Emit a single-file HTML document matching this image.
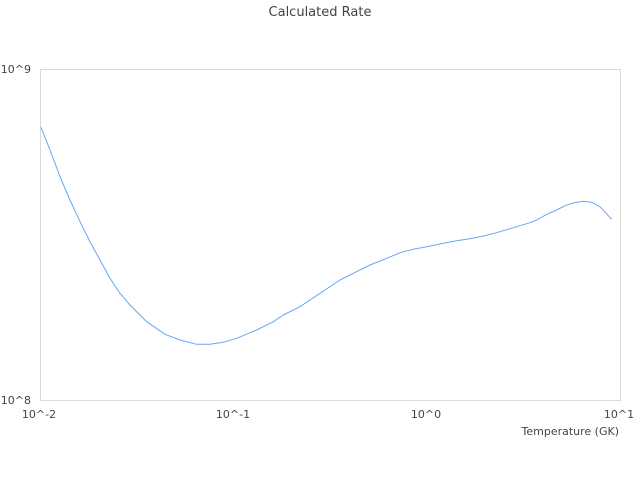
<!DOCTYPE html>
<html><head><meta charset="utf-8"><style>
html,body{margin:0;padding:0;background:#fff;}
svg{display:block;}
text{font-family:"DejaVu Sans","Liberation Sans",sans-serif;fill:#444;}
</style></head><body>
<svg width="640" height="480" viewBox="0 0 640 480" xmlns="http://www.w3.org/2000/svg">
<rect x="0" y="0" width="640" height="480" fill="#fff"/>
<text x="320" y="16" font-size="13" text-anchor="middle">Calculated Rate</text>
<rect x="40.5" y="69.5" width="580" height="331" fill="none" stroke="#d9d9d9" stroke-width="1"/>
<text x="31" y="73" font-size="11" text-anchor="end">10^9</text>
<text x="31" y="404" font-size="11" text-anchor="end">10^8</text>
<text x="39" y="418" font-size="11" text-anchor="middle">10^-2</text>
<text x="233" y="418" font-size="11" text-anchor="middle">10^-1</text>
<text x="426" y="418" font-size="11" text-anchor="middle">10^0</text>
<text x="619" y="418" font-size="11" text-anchor="middle">10^1</text>
<text x="619" y="435" font-size="11" text-anchor="end">Temperature (GK)</text>
<polyline fill="none" stroke="#62a8f6" stroke-width="1" stroke-linejoin="round" points="
41,127.3 50,150 60,176.7 70,200 80,221.7 90,241.7 100,260 110,278.3 120,293.3 130,305 140,315 146.7,321.7 165,334.3 180,340 196.7,344.3 210,344.3 223.3,342.3 236.7,338.3 250,332.7 256.7,330 273.3,321.7 283.3,315 300,306.7 320,293.3 340,280 353.3,273.3 370,265 386.7,258.3 400,252.7 413.3,249.3 426.7,246.7 443.3,243.3 456.7,240.7 470,238.7 483.3,236 496.7,232.7 510,228.7 530,222.7 536.7,220 546.7,214.3 556.7,210 565,205.7 573.3,203 583.3,201.3 591.7,202.3 600,206.7 611.7,219.3"/>
</svg>
</body></html>
